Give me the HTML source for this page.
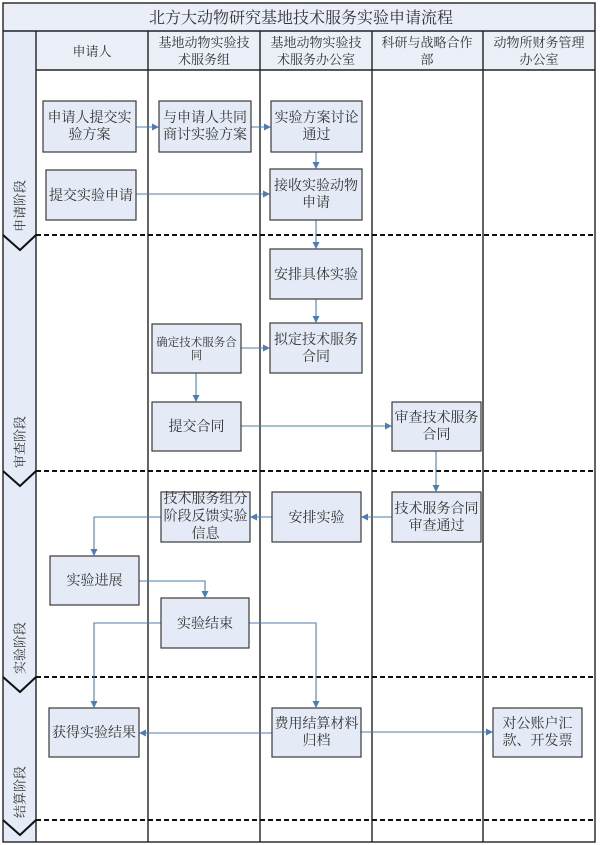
<!DOCTYPE html>
<html>
<head>
<meta charset="utf-8">
<style>
html,body{margin:0;padding:0;background:#fff;}
svg{display:block;}
text{font-family:"Liberation Serif","Noto Serif CJK SC",serif;fill:#333;}
</style>
</head>
<body>
<svg width="600" height="845" viewBox="0 0 600 845" xmlns="http://www.w3.org/2000/svg">
<defs>
<marker id="ah" markerWidth="8" markerHeight="8" refX="6" refY="3.5" orient="auto" markerUnits="userSpaceOnUse">
<path d="M0,0 L7,3.5 L0,7 Z" fill="#4a7ebb"/>
</marker>
</defs>

<!-- backgrounds -->
<rect x="3" y="3" width="592" height="28" fill="#e9eef8"/>
<rect x="36" y="31" width="559" height="39" fill="#eaeff8"/>
<rect x="3" y="31" width="33" height="811" fill="#e6ecf7"/>

<!-- grid lines -->
<g stroke="#222" stroke-width="1.4" fill="none">
<rect x="3" y="3" width="592" height="839"/>
<line x1="3" y1="31" x2="595" y2="31"/>
<line x1="36" y1="70" x2="595" y2="70"/>
<line x1="36" y1="31" x2="36" y2="842"/>
<line x1="148" y1="31" x2="148" y2="842"/>
<line x1="260" y1="31" x2="260" y2="842"/>
<line x1="372" y1="31" x2="372" y2="842"/>
<line x1="483" y1="31" x2="483" y2="842"/>
</g>

<!-- dashed separators + chevrons -->
<g stroke="#111" stroke-width="2" fill="none">
<line x1="36" y1="235" x2="595" y2="235" stroke-dasharray="5,3"/>
<line x1="36" y1="471" x2="595" y2="471" stroke-dasharray="5,3"/>
<line x1="36" y1="677" x2="595" y2="677" stroke-dasharray="5,3"/>
<line x1="36" y1="820" x2="595" y2="820" stroke-dasharray="5,3"/>
<polyline points="3,235 20,250 36,235"/>
<polyline points="3,471 20,486 36,471"/>
<polyline points="3,677 20,692 36,677"/>
<polyline points="3,820 20,835 36,820"/>
</g>

<!-- title -->
<text x="301" y="23" font-size="16" text-anchor="middle">北方大动物研究基地技术服务实验申请流程</text>

<!-- headers -->
<g font-size="13" text-anchor="middle">
<text x="92" y="56">申请人</text>
<text x="204" y="47">基地动物实验技</text>
<text x="204" y="64">术服务组</text>
<text x="316" y="47">基地动物实验技</text>
<text x="316" y="64">术服务办公室</text>
<text x="427" y="47">科研与战略合作</text>
<text x="427" y="64">部</text>
<text x="539" y="47">动物所财务管理</text>
<text x="539" y="64">办公室</text>
</g>

<!-- stage labels -->
<g font-size="13" text-anchor="middle">
<text transform="translate(24.5,206) rotate(-90)">申请阶段</text>
<text transform="translate(24.5,442) rotate(-90)">审查阶段</text>
<text transform="translate(24.5,648) rotate(-90)">实验阶段</text>
<text transform="translate(24.5,792) rotate(-90)">结算阶段</text>
</g>

<!-- connectors -->
<g stroke="#4a7ebb" stroke-width="1.1" fill="none" marker-end="url(#ah)">
<line x1="136" y1="127" x2="158" y2="127"/>
<line x1="251" y1="127" x2="270" y2="127"/>
<line x1="316" y1="152" x2="316" y2="168"/>
<line x1="136" y1="194" x2="269" y2="194"/>
<line x1="316" y1="220" x2="316" y2="248"/>
<line x1="316" y1="299" x2="316" y2="322"/>
<line x1="241" y1="348" x2="269" y2="348"/>
<line x1="196" y1="373" x2="196" y2="401"/>
<line x1="241" y1="426" x2="391" y2="426"/>
<line x1="436" y1="451" x2="436" y2="491"/>
<line x1="392" y1="517" x2="362" y2="517"/>
<line x1="272" y1="517" x2="251" y2="517"/>
<polyline points="161,517 94,517 94,555"/>
<polyline points="139,581 205,581 205,597"/>
<polyline points="161,623 94,623 94,707"/>
<polyline points="249,623 316,623 316,707"/>
<line x1="272" y1="733" x2="140" y2="733"/>
<line x1="361" y1="732" x2="492" y2="732"/>
</g>

<!-- boxes -->
<g fill="#e5ebf6" stroke="#3a3a3a" stroke-width="1.2">
<rect x="43" y="101" width="93" height="51"/>
<rect x="159" y="101" width="92" height="51"/>
<rect x="271" y="101" width="91" height="51"/>
<rect x="46" y="170" width="90" height="50"/>
<rect x="270" y="169" width="92" height="51"/>
<rect x="270" y="249" width="92" height="50"/>
<rect x="152" y="324" width="89" height="49"/>
<rect x="270" y="323" width="92" height="50"/>
<rect x="152" y="402" width="89" height="49"/>
<rect x="392" y="402" width="89" height="49"/>
<rect x="161" y="492" width="89" height="50"/>
<rect x="272" y="492" width="89" height="50"/>
<rect x="392" y="492" width="89" height="50"/>
<rect x="50" y="556" width="89" height="49"/>
<rect x="161" y="598" width="88" height="50"/>
<rect x="49" y="708" width="90" height="49"/>
<rect x="272" y="708" width="89" height="49"/>
<rect x="493" y="708" width="89" height="49"/>
</g>

<!-- box text -->
<g font-size="14" text-anchor="middle">
<text x="89.5" y="122">申请人提交实</text>
<text x="89.5" y="139">验方案</text>
<text x="205" y="122">与申请人共同</text>
<text x="205" y="139">商讨实验方案</text>
<text x="316.5" y="122">实验方案讨论</text>
<text x="316.5" y="139">通过</text>
<text x="91" y="200">提交实验申请</text>
<text x="316" y="190">接收实验动物</text>
<text x="316" y="207">申请</text>
<text x="316" y="279">安排具体实验</text>
<text x="316" y="344">拟定技术服务</text>
<text x="316" y="361">合同</text>
<text x="196.5" y="431">提交合同</text>
<text x="436.5" y="422">审查技术服务</text>
<text x="436.5" y="439">合同</text>
<text x="205.5" y="503">技术服务组分</text>
<text x="205.5" y="520.5">阶段反馈实验</text>
<text x="205.5" y="538">信息</text>
<text x="316.5" y="522">安排实验</text>
<text x="436.5" y="513">技术服务合同</text>
<text x="436.5" y="530">审查通过</text>
<text x="94.5" y="585">实验进展</text>
<text x="205" y="628">实验结束</text>
<text x="94" y="737">获得实验结果</text>
<text x="316.5" y="728">费用结算材料</text>
<text x="316.5" y="745">归档</text>
<text x="537.5" y="728">对公账户汇</text>
<text x="537.5" y="745">款、开发票</text>
</g>
<g font-size="11.5" text-anchor="middle">
<text x="196.5" y="346">确定技术服务合</text>
<text x="196.5" y="359">同</text>
</g>
</svg>
</body>
</html>
